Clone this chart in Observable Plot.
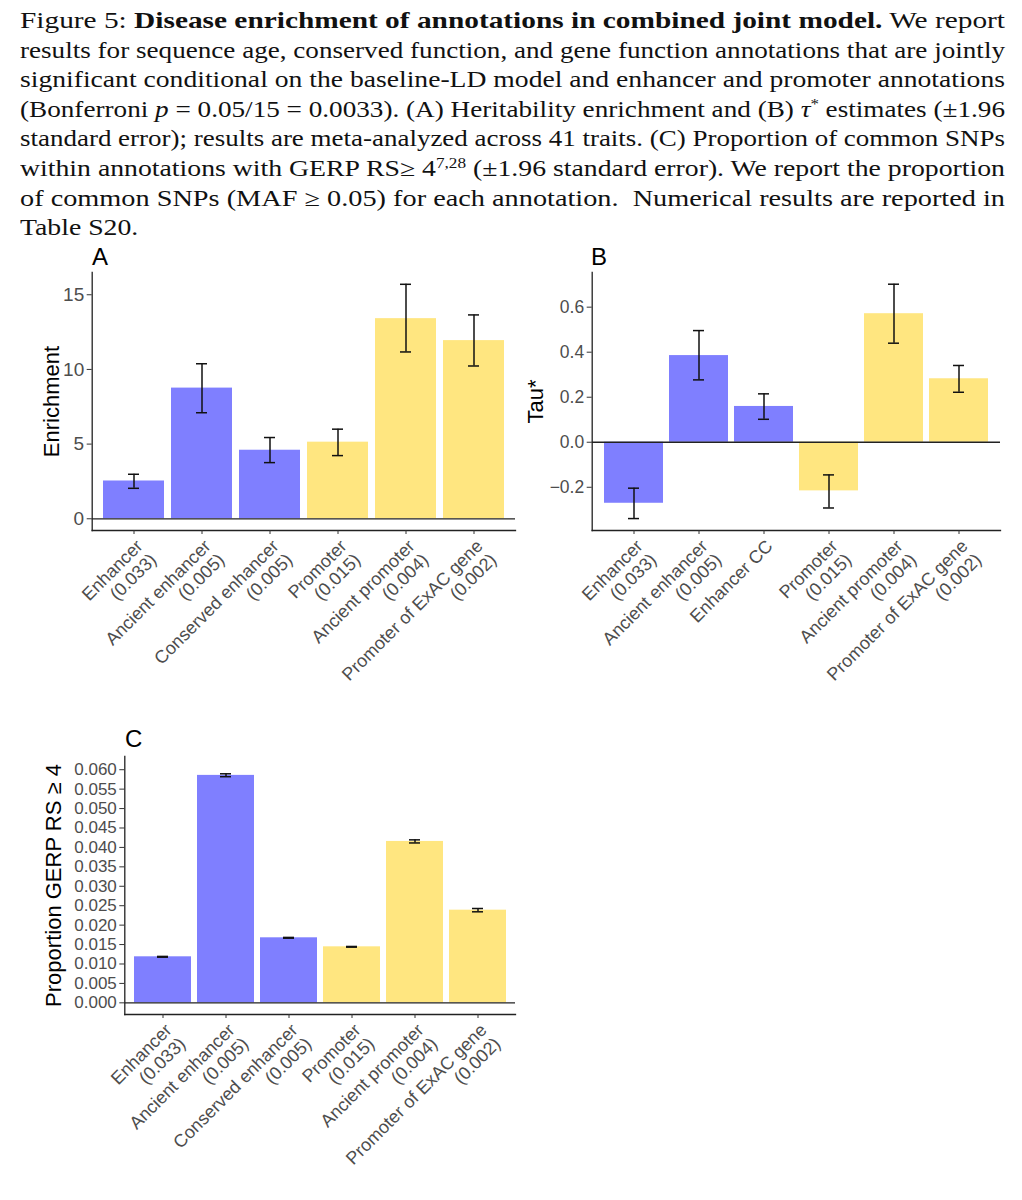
<!DOCTYPE html>
<html>
<head>
<meta charset="utf-8">
<script src="https://cdn.jsdelivr.net/npm/d3@7"></script>
<script src="https://cdn.jsdelivr.net/npm/@observablehq/plot@0.6"></script>
<style>
  html, body { margin: 0; padding: 0; background: #fff; }
  #page { position: relative; width: 1022px; height: 1200px; background: #fff; overflow: hidden; }
  #caption { position: absolute; left: 20px; top: 6px; width: 985px; font-family: "Liberation Serif", "DejaVu Serif", serif; font-size: 22.5px; color: #111; }
  #caption .ln { line-height: 29.6px; height: 29.6px; white-space: nowrap; }
  #caption .ln > span { display: inline-block; transform-origin: 0 50%; white-space: pre; }
  #caption sup { font-size: 0.62em; line-height: 0; vertical-align: 0.55em; }
  .letter { position: absolute; font-family: "Liberation Sans", Arial, sans-serif; font-size: 24px; line-height: 24px; color: #000; }
  .panel { position: absolute; }
  .panel g[aria-label$="tick label"] { fill: #4d4d4d; }
</style>
</head>
<body>
<div id="page">
  <div id="caption">
    <div class="ln"><span>Figure 5: <b>Disease enrichment of annotations in combined joint model.</b> We report</span></div>
    <div class="ln"><span>results for sequence age, conserved function, and gene function annotations that are jointly</span></div>
    <div class="ln"><span>significant conditional on the baseline-LD model and enhancer and promoter annotations</span></div>
    <div class="ln"><span>(Bonferroni <i>p</i> = 0.05/15 = 0.0033). (A) Heritability enrichment and (B) <i>τ</i><sup>*</sup> estimates (±1.96</span></div>
    <div class="ln"><span>standard error); results are meta-analyzed across 41 traits. (C) Proportion of common SNPs</span></div>
    <div class="ln"><span>within annotations with GERP RS≥ 4<sup>7,28</sup> (±1.96 standard error). We report the proportion</span></div>
    <div class="ln"><span>of common SNPs (MAF ≥ 0.05) for each annotation.  Numerical results are reported in</span></div>
    <div class="ln last"><span>Table S20.</span></div>
  </div>
  <div class="letter" style="left:92px; top:245px;">A</div>
  <div class="letter" style="left:591px; top:245px;">B</div>
  <div class="letter" style="left:125px; top:727px;">C</div>
  <div id="pa" class="panel" style="left:0px; top:240px;"></div>
  <div id="pb" class="panel" style="left:520px; top:240px;"></div>
  <div id="pc" class="panel" style="left:0px; top:720px;"></div>
</div>
<script>
// ---- data ----
const labelsA = ["Enhancer\n(0.033)", "Ancient enhancer\n(0.005)", "Conserved enhancer\n(0.005)", "Promoter\n(0.015)", "Ancient promoter\n(0.004)", "Promoter of ExAC gene\n(0.002)"];
const labelsB = ["Enhancer\n(0.033)", "Ancient enhancer\n(0.005)", "Enhancer CC", "Promoter\n(0.015)", "Ancient promoter\n(0.004)", "Promoter of ExAC gene\n(0.002)"];
const labelsC = ["Enhancer\n(0.033)", "Ancient enhancer\n(0.005)", "Conserved enhancer\n(0.005)", "Promoter\n(0.015)", "Ancient promoter\n(0.004)", "Promoter of ExAC gene\n(0.002)"];
const classes = ["enhancer", "enhancer", "enhancer", "promoter", "promoter", "promoter"];

const enrichment   = [2.53, 8.75, 4.59, 5.13, 13.40, 11.93];
const enrichmentLo = [2.04, 7.10, 3.76, 4.23, 11.17, 10.23];
const enrichmentHi = [2.98, 10.38, 5.44, 6.00, 15.70, 13.65];

const tau   = [-0.271, 0.385, 0.159, -0.216, 0.571, 0.282];
const tauLo = [-0.339, 0.277, 0.102, -0.292, 0.440, 0.222];
const tauHi = [-0.204, 0.496, 0.215, -0.145, 0.702, 0.341];

const gerp   = [0.01185, 0.05854, 0.01674, 0.01442, 0.04154, 0.02385];
const gerpLo = [0.01175, 0.05820, 0.01664, 0.01433, 0.04115, 0.02343];
const gerpHi = [0.01195, 0.05895, 0.01684, 0.01451, 0.04195, 0.02428];

const ticksA = [0, 5, 10, 15];
const ticksB = [-0.2, 0.0, 0.2, 0.4, 0.6];
const ticksC = [0, 0.005, 0.010, 0.015, 0.020, 0.025, 0.030, 0.035, 0.040, 0.045, 0.050, 0.055, 0.060];

const classNames = ["enhancer", "promoter"];
const classColors = ["#7f7fff", "#ffe680"];

function rows(labels, v, lo, hi) {
  return labels.map((name, i) => ({name, cls: classes[i], v: v[i], lo: lo[i], hi: hi[i]}));
}

function panel({labels, v, lo, hi, width, height, mL, mR, mT, mB, yDomain, ticks, fmt, title, titleDx, tickFont, capInset}) {
  const data = rows(labels, v, lo, hi);
  return Plot.plot({
    width, height,
    marginLeft: mL, marginRight: mR, marginTop: mT, marginBottom: mB,
    style: {fontFamily: "'Liberation Sans', Arial, sans-serif", background: "transparent", color: "#000"},
    x: {domain: labels, paddingInner: 0.1, paddingOuter: 0.15, align: 0.5},
    y: {domain: yDomain},
    color: {domain: classNames, range: classColors},
    marks: [
      Plot.barY(data, {x: "name", y: "v", fill: "cls"}),
      Plot.ruleY([0], {stroke: "#222", strokeWidth: 1.3}),
      Plot.ruleX(data, {x: "name", y1: "lo", y2: "hi", stroke: "#111", strokeWidth: 1.5}),
      Plot.tickY(data, {x: "name", y: "lo", stroke: "#111", strokeWidth: 1.5, insetLeft: capInset, insetRight: capInset}),
      Plot.tickY(data, {x: "name", y: "hi", stroke: "#111", strokeWidth: 1.5, insetLeft: capInset, insetRight: capInset}),
      Plot.frame({anchor: "left", stroke: "#222", strokeWidth: 1.3}),
      Plot.frame({anchor: "bottom", stroke: "#222", strokeWidth: 1.3}),
      Plot.axisY({ticks, tickFormat: fmt, tickSize: 5, tickPadding: 3, fontSize: tickFont, label: null, stroke: "#333"}),
      Plot.axisX({tickSize: 4, tickPadding: 3, tickRotate: -45, fontSize: 18, lineHeight: 1.08, label: null, stroke: "#333", textAnchor: "end", lineAnchor: "top"}),
      Plot.text([title], {frameAnchor: "left", rotate: -90, dx: titleDx, fontSize: 22, fill: "#000", textAnchor: "middle", lineAnchor: "middle"})
    ]
  });
}

document.getElementById("pa").appendChild(panel({
  labels: labelsA, v: enrichment, lo: enrichmentLo, hi: enrichmentHi,
  width: 520, height: 480, mL: 91.7, mR: 5, mT: 32, mB: 190,
  yDomain: [-0.785, 16.49], ticks: ticksA, fmt: d3.format("d"),
  title: "Enrichment", titleDx: -40, tickFont: 19, capInset: 25
}));

document.getElementById("pb").appendChild(panel({
  labels: labelsB, v: tau, lo: tauLo, hi: tauHi,
  width: 502, height: 480, mL: 71.7, mR: 22, mT: 32, mB: 190,
  yDomain: [-0.392, 0.754], ticks: ticksB, fmt: d3.format(".1f"),
  title: "Tau*", titleDx: -56, tickFont: 17.5, capInset: 24
}));

document.getElementById("pc").appendChild(panel({
  labels: labelsC, v: gerp, lo: gerpLo, hi: gerpHi,
  width: 520, height: 480, mL: 124.3, mR: 5, mT: 36, mB: 186,
  yDomain: [-0.0030, 0.0634], ticks: ticksC, fmt: d3.format(".3f"),
  title: "Proportion GERP RS ≥ 4", titleDx: -71, tickFont: 17, capInset: 23
}));

// stretch each caption line horizontally to fill the text block (justified look)
(function () {
  const target = 985;
  const spans = Array.from(document.querySelectorAll("#caption .ln > span"));
  const scales = [];
  spans.forEach((s, i) => {
    if (s.parentNode.classList.contains("last")) return;
    const w = s.getBoundingClientRect().width;
    const k = target / w;
    scales.push(k);
    s.style.transform = `scaleX(${k})`;
  });
  const avg = scales.reduce((a, b) => a + b, 0) / scales.length;
  spans.forEach(s => {
    if (s.parentNode.classList.contains("last")) s.style.transform = `scaleX(${avg})`;
  });
})();
</script>
</body>
</html>
